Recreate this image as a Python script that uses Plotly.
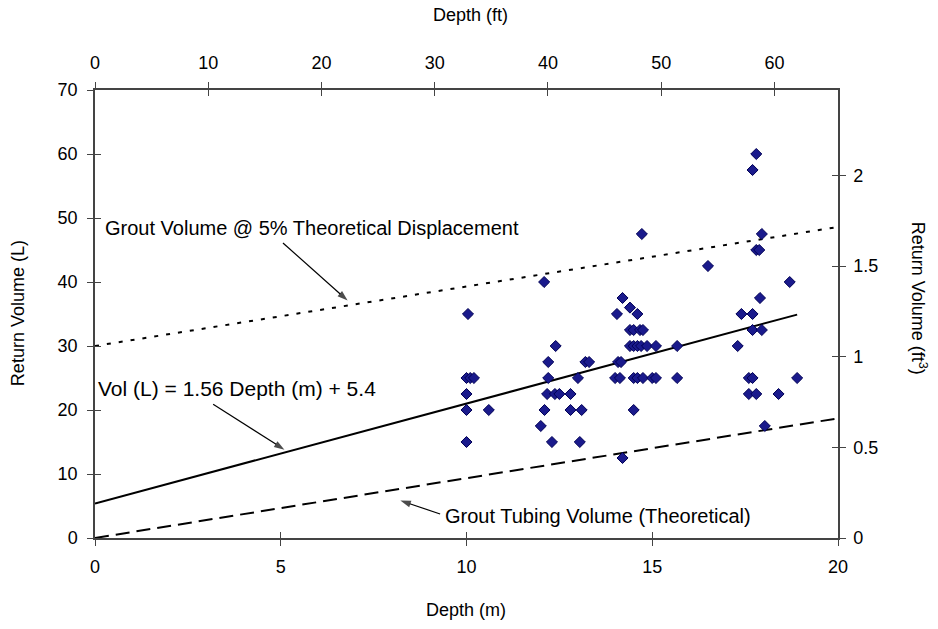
import plotly.graph_objects as go

# ---- data ----
depth_m = [10.04, 10.0, 10.1, 10.2, 10.0, 10.0, 10.6, 10.0,
           12.09, 12.4, 12.2, 13.2, 13.3, 12.2, 13.0, 12.17, 12.38, 12.5, 12.8,
           12.1, 12.8, 13.1, 12.0, 12.3, 13.05,
           14.2, 14.4, 14.05, 14.6, 14.4, 14.5, 14.67, 14.75,
           14.4, 14.5, 14.6, 14.7, 14.86, 15.1, 15.67,
           14.08, 14.16, 14.0, 14.13, 14.5, 14.6, 14.75, 15.0, 15.1, 15.67,
           14.5, 14.2, 14.72, 16.5,
           17.8, 17.7, 17.95, 17.8, 17.88, 18.7, 17.9, 17.4, 17.7, 17.7, 17.95, 17.3,
           17.6, 17.7, 18.9, 17.6, 17.8, 18.4, 18.03]
return_L = [35, 25, 25, 25, 22.5, 20, 20, 15,
            40, 30, 27.5, 27.5, 27.5, 25, 25, 22.5, 22.5, 22.5, 22.5,
            20, 20, 20, 17.5, 15, 15,
            37.5, 36, 35, 35, 32.5, 32.5, 32.5, 32.5,
            30, 30, 30, 30, 30, 30, 30,
            27.5, 27.5, 25, 25, 25, 25, 25, 25, 25, 25,
            20, 12.5, 47.5, 42.5,
            60, 57.5, 47.5, 45, 45, 40, 37.5, 35, 35, 32.5, 32.5, 30,
            25, 25, 25, 22.5, 22.5, 22.5, 17.5]

fit_x = [0, 18.9]
fit_y = [5.4, 34.9]
disp_x = [0, 20]
disp_y = [30, 48.6]
tube_x = [0, 20]
tube_y = [0, 18.7]

# annotation arrows (tail -> head), in axis units
arrow_disp_x = [5.06, 6.80]
arrow_disp_y = [46.1, 37.1]
arrow_fit_x = [3.18, 5.10]
arrow_fit_y = [20.9, 13.8]
arrow_tube_x = [9.29, 8.22]
arrow_tube_y = [3.75, 5.85]

x_ticks_m = [0, 5, 10, 15, 20]
x_ticks_ft = [0, 10, 20, 30, 40, 50, 60]
y_ticks_L = [0, 10, 20, 30, 40, 50, 60, 70]
y_ticks_ft3 = [0, 0.5, 1, 1.5, 2]

X_MAX = 20
Y_MAX = 70
FT_PER_M = 1 / 0.3048
L_PER_FT3 = 28.3168

FONT = "Liberation Sans, Arial, sans-serif"
AX = "#444444"

fig = go.Figure()

fig.add_trace(go.Scatter(x=disp_x, y=disp_y, mode="lines",
                         line=dict(color="black", width=2, dash="4px,8px"),
                         showlegend=False, hoverinfo="skip"))
fig.add_trace(go.Scatter(x=tube_x, y=tube_y, mode="lines",
                         line=dict(color="black", width=2, dash="14px,7px"),
                         showlegend=False, hoverinfo="skip"))
fig.add_trace(go.Scatter(x=fit_x, y=fit_y, mode="lines",
                         line=dict(color="black", width=2),
                         showlegend=False, hoverinfo="skip"))
fig.add_trace(go.Scatter(x=depth_m, y=return_L, mode="markers",
                         marker=dict(symbol="diamond", size=8.5, color="#1a1a8c",
                                     line=dict(color="#000055", width=1)),
                         showlegend=False))

for ax_, ay_ in [(arrow_disp_x, arrow_disp_y), (arrow_fit_x, arrow_fit_y),
                 (arrow_tube_x, arrow_tube_y)]:
    fig.add_trace(go.Scatter(x=ax_, y=ay_, mode="lines+markers",
                             line=dict(color="black", width=1.2),
                             marker=dict(symbol="arrow", size=[0, 11], color="black",
                                         angleref="previous", line=dict(width=0)),
                             showlegend=False, hoverinfo="skip"))

# invisible traces for secondary axes
fig.add_trace(go.Scatter(x=[0], y=[0], xaxis="x2", yaxis="y2", mode="markers",
                         marker=dict(opacity=0), showlegend=False, hoverinfo="skip"))
fig.add_trace(go.Scatter(x=[0], y=[0], xaxis="x3", yaxis="y3", mode="markers",
                         marker=dict(opacity=0), showlegend=False, hoverinfo="skip"))
fig.add_trace(go.Scatter(x=[0], y=[0], xaxis="x4", yaxis="y4", mode="markers",
                         marker=dict(opacity=0), showlegend=False, hoverinfo="skip"))

tickfont = dict(family=FONT, size=18, color="black")
common = dict(showgrid=False, zeroline=False, showline=True, linecolor=AX,
              linewidth=1.5, tickcolor=AX, ticklen=6, tickwidth=1)

fig.update_layout(
    width=938, height=629,
    margin=dict(l=95, r=100, t=90, b=91),
    paper_bgcolor="white", plot_bgcolor="white",
    xaxis=dict(range=[0, X_MAX], tickvals=x_ticks_m, ticks="outside",
               tickfont=tickfont, ticklabelstandoff=6, **common),
    yaxis=dict(range=[0, Y_MAX], tickvals=y_ticks_L, ticks="outside",
               tickfont=tickfont, ticklabelstandoff=6, **common),
    xaxis2=dict(range=[0, X_MAX * FT_PER_M], tickvals=x_ticks_ft, ticks="outside",
                overlaying="x", side="top", tickfont=tickfont, ticklabelstandoff=6,
                **common),
    yaxis2=dict(range=[0, Y_MAX / L_PER_FT3], tickvals=y_ticks_ft3, ticks="outside",
                overlaying="y", side="right", tickfont=tickfont, ticklabelstandoff=4,
                **common),
    xaxis3=dict(range=[0, X_MAX], tickvals=x_ticks_m, ticks="inside",
                overlaying="x", side="bottom", showticklabels=False, **common),
    yaxis3=dict(range=[0, Y_MAX], tickvals=y_ticks_L, ticks="inside",
                overlaying="y", side="left", showticklabels=False, **common),
    xaxis4=dict(range=[0, X_MAX * FT_PER_M], tickvals=x_ticks_ft, ticks="inside",
                overlaying="x", side="top", showticklabels=False, **common),
    yaxis4=dict(range=[0, Y_MAX / L_PER_FT3], tickvals=y_ticks_ft3, ticks="inside",
                overlaying="y", side="right", showticklabels=False, **common),
)

titlefont = dict(family=FONT, size=18, color="black")
annfont = dict(family=FONT, size=20, color="black")

anns = [
    dict(text="Depth (ft)", x=0.506, y=1.167, xref="paper", yref="paper",
         showarrow=False, font=titlefont, xanchor="center", yanchor="middle"),
    dict(text="Depth (m)", x=0.499, y=-0.161, xref="paper", yref="paper",
         showarrow=False, font=titlefont, xanchor="center", yanchor="middle"),
    dict(text="Return Volume (L)", x=-0.1036, y=0.502, xref="paper", yref="paper",
         showarrow=False, font=titlefont, textangle=-90, xanchor="center", yanchor="middle"),
    dict(text="Return Volume (ft<sup>3</sup>)", x=1.108, y=0.536, xref="paper", yref="paper",
         showarrow=False, font=titlefont, textangle=90, xanchor="center", yanchor="middle"),
    dict(text="Grout Volume @ 5% Theoretical Displacement", x=5.84, y=48.4,
         xref="x", yref="y", showarrow=False, font=annfont, xanchor="center", yanchor="middle"),
    dict(text="Vol (L) = 1.56 Depth (m) + 5.4", x=0.03, y=23.3,
         xref="x", yref="y", showarrow=False, font=dict(family=FONT, size=21, color="black"),
         xanchor="left", yanchor="middle"),
    dict(text="Grout Tubing Volume (Theoretical)", x=9.37, y=3.44,
         xref="x", yref="y", showarrow=False, font=annfont, xanchor="left", yanchor="middle"),
]
fig.update_layout(annotations=anns)

fig.write_html("out.html")
